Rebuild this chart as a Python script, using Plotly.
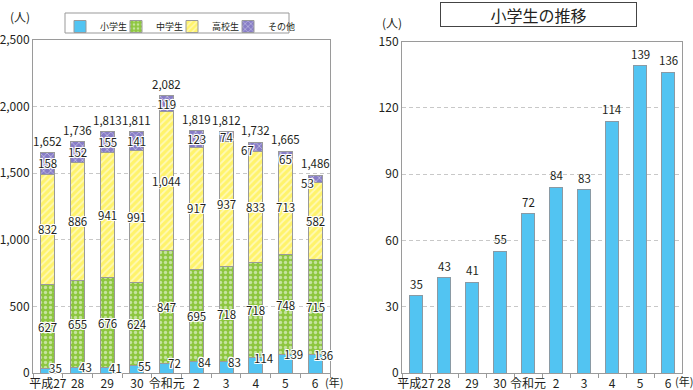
import plotly.graph_objects as go

# ---- data ----
years = ["平成27", "28", "29", "30", "令和元", "2", "3", "4", "5", "6"]
elem = [35, 43, 41, 55, 72, 84, 83, 114, 139, 136]       # 小学生
junior = [627, 655, 676, 624, 847, 695, 718, 718, 748, 715]  # 中学生
high = [832, 886, 941, 991, 1044, 917, 937, 833, 713, 582]   # 高校生
other = [158, 152, 155, 141, 119, 123, 74, 67, 65, 53]       # その他
series_names = ["小学生", "中学生", "高校生", "その他"]
left_ticks = [0, 500, 1000, 1500, 2000, 2500]
right_ticks = [0, 30, 60, 90, 120, 150]

W, H = 693, 390
FONT = "Noto Sans CJK JP"
TXT = "#231f20"
BLUE = "#52c4f2"
GREEN = "#8dc63f"
YELLOW = "#fff36b"
PURPLE = "#877dc6"
EDGE = "#9a9a9a"
HALO = "1px 1px 0 #fff, -1px -1px 0 #fff, 1px -1px 0 #fff, -1px 1px 0 #fff, 0 1px 0 #fff, 0 -1px 0 #fff, 1px 0 0 #fff, -1px 0 0 #fff"
LBL = 11.5

def px_x(p):
    return p / W

def px_y(p):
    return (H - p) / H

fig = go.Figure()

styles = [
    dict(color=BLUE, pattern=dict(shape="")),
    dict(color=GREEN, pattern=dict(shape=".", bgcolor=GREEN, fgcolor="#ffffff", size=5, solidity=0.35, fillmode="overlay")),
    dict(color=YELLOW, pattern=dict(shape="/", bgcolor=YELLOW, fgcolor="#ffffff", size=5, solidity=0.35, fillmode="overlay")),
    dict(color=PURPLE, pattern=dict(shape="x", bgcolor=PURPLE, fgcolor="#ffffff", size=5, solidity=0.3, fillmode="overlay")),
]
legend_ids = ["legend", "legend2", "legend3", "legend4"]
for name, vals, st, lg in zip(series_names, [elem, junior, high, other], styles, legend_ids):
    fig.add_trace(go.Bar(
        x=years, y=vals, name=name, width=0.47, legend=lg,
        marker=dict(color=st["color"], pattern=st["pattern"], line=dict(color=EDGE, width=1)),
        xaxis="x", yaxis="y", hoverinfo="skip",
    ))

fig.add_trace(go.Bar(
    x=years, y=elem, name="小学生", width=0.46, showlegend=False,
    marker=dict(color=BLUE, line=dict(color="#8a9aa4", width=1)),
    xaxis="x2", yaxis="y2", hoverinfo="skip",
))

ann = []
lab_font = dict(family=FONT, size=LBL, color=TXT, shadow=HALO)
plain_font = dict(family=FONT, size=LBL, color=TXT)
# label nudges (px) for small segments
nudge = {(3, 7): (-8, -3), (3, 9): (-8, -4), (3, 8): (0, -3)}
for i, y in enumerate(years):
    # category index i is the position of category years[i]
    ann.append(dict(x=i, y=elem[i], xref="x", yref="y", text=str(elem[i]), showarrow=False,
                    xshift=8, yshift=0, font=lab_font))
    base = elem[i]
    for s, vals in enumerate([junior, high, other], start=1):
        v = vals[i]
        dx, dy = nudge.get((s, i), (0, 0))
        ann.append(dict(x=i, y=base + v / 2, xref="x", yref="y", text=f"{v:,}", showarrow=False,
                        xshift=dx, yshift=dy, font=lab_font))
        base += v
    ann.append(dict(x=i, y=base, xref="x", yref="y", text=f"{base:,}", showarrow=False,
                    yshift=12, font=plain_font))
    ann.append(dict(x=i, y=elem[i], xref="x2", yref="y2", text=str(elem[i]), showarrow=False,
                    yshift=12, font=plain_font))

# units and title
def paper_text(x, y, text, size=12, **kw):
    return dict(x=px_x(x), y=px_y(y), xref="paper", yref="paper", text=text, showarrow=False,
                xanchor="center", yanchor="middle",
                font=dict(family=FONT, size=size, color=TXT), **kw)

ann += [
    paper_text(20, 17, "(人)"),
    paper_text(392, 22, "(人)"),
    paper_text(334, 382, "(年)", size=11),
    paper_text(684, 381, "(年)", size=11),
    paper_text(538, 14.5, "小学生の推移", size=16, bordercolor="#444", borderwidth=1,
               borderpad=1, width=193, height=21, bgcolor="#fff"),
]

shapes = [dict(type="rect", xref="paper", yref="paper", x0=px_x(65), x1=px_x(289),
               y0=px_y(33), y1=px_y(13), line=dict(color="#999", width=1), layer="above")]

axis_common = dict(showline=True, linecolor=EDGE, linewidth=1, mirror=True, automargin=False,
                   tickfont=dict(family=FONT, size=12, color=TXT))
n = len(years)

legend_common = dict(orientation="h", xanchor="left", y=px_y(12), yanchor="top",
                     borderwidth=0, bgcolor="rgba(0,0,0,0)",
                     font=dict(family=FONT, size=9, color=TXT), itemwidth=30)
legend_x = [60, 116, 172, 228]

fig.update_layout(
    width=W, height=H, margin=dict(l=0, r=0, t=0, b=0),
    paper_bgcolor="#fff", plot_bgcolor="#fff",
    barmode="stack",
    font=dict(family=FONT, color=TXT),
    xaxis=dict(domain=[px_x(33), px_x(330)], type="category", tickson="boundaries",
               range=[-0.5, n - 0.5], tickangle=0,
               ticks="outside", ticklen=4, tickcolor=EDGE, showgrid=False, anchor="y",
               **axis_common),
    yaxis=dict(domain=[px_y(373), px_y(40)], range=[0, 2500], tickvals=left_ticks,
               tickformat=",", showgrid=True, gridcolor="#c8c8c8", griddash="4px,3px",
               ticks="", zeroline=False, anchor="x", **axis_common),
    xaxis2=dict(domain=[px_x(402), px_x(682)], type="category", tickson="boundaries",
                range=[-0.5, n - 0.5], tickangle=0,
                ticks="outside", ticklen=4, tickcolor=EDGE, showgrid=False, anchor="y2",
                **axis_common),
    yaxis2=dict(domain=[px_y(373), px_y(41.5)], range=[0, 150], tickvals=right_ticks,
                showgrid=True, gridcolor="#c8c8c8", griddash="4px,3px",
                ticks="", zeroline=False, anchor="x2", **axis_common),
    annotations=ann,
    shapes=shapes,
)
for lg, lx in zip(legend_ids, legend_x):
    fig.update_layout({lg: dict(x=px_x(lx), **legend_common)})

fig.write_html("out.html", config={"displayModeBar": False},
               post_script="document.body.style.margin='0';")
